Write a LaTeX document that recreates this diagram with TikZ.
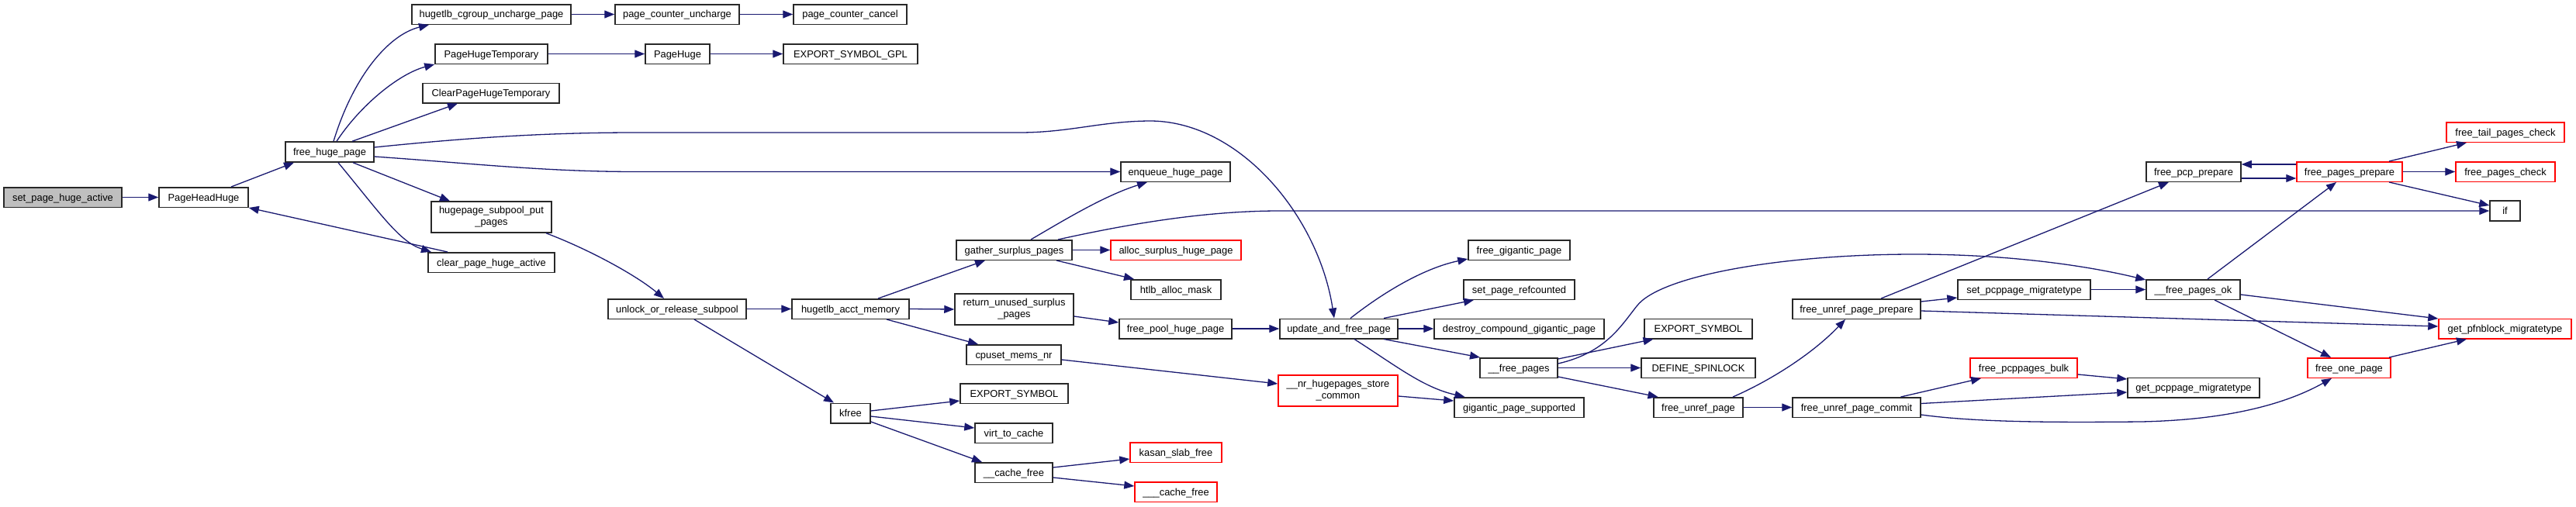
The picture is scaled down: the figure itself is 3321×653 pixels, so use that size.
\documentclass[tikz,border=0pt]{standalone}
\usepackage{fontspec}
\setmainfont{Liberation Sans}
\usetikzlibrary{arrows.meta}
\definecolor{edgeblue}{RGB}{25,25,112}
\definecolor{nodeborder}{RGB}{40,40,40}
\definecolor{nodered}{RGB}{255,0,0}
\definecolor{rootfill}{RGB}{191,191,191}
\tikzset{
  fn/.style={draw=nodeborder, line width=1.5pt, inner sep=0pt, minimum height=25.5pt,
    text height=12pt, text depth=3pt, font=\fontsize{12.9}{15}\selectfont},
  fn2/.style={draw=nodeborder, line width=1.5pt, inner sep=0pt, minimum height=40pt,
    align=center, font=\fontsize{12.9}{15}\selectfont},
  redn/.style={draw=nodered},
  rootn/.style={fill=rootfill},
  conn/.style={draw=edgeblue, line width=1.3pt, -{Triangle[length=13pt,width=10pt]}},
}
\begin{document}
\begin{tikzpicture}[x=1pt,y=-1pt]
\useasboundingbox (0,0) rectangle (3321,653);
% column 1-3
\node[fn, rootn, minimum width=152pt] (root) at (81,254.5) {set\_page\_huge\_active};
\node[fn, minimum width=115pt] (phh) at (262.5,254.5) {PageHeadHuge};
\node[fn, minimum width=114pt, minimum height=26pt] (fhp) at (425,196) {free\_huge\_page};
% column 4
\node[fn, minimum width=205pt] (hcup) at (633.5,18.5) {hugetlb\_cgroup\_uncharge\_page};
\node[fn, minimum width=145pt] (pht) at (633.5,69.5) {PageHugeTemporary};
\node[fn, minimum width=176pt] (cpht) at (633,120) {ClearPageHugeTemporary};
\node[fn2, minimum width=155pt] (hspp) at (633.5,280) {hugepage\_subpool\_put\\\_pages};
\node[fn, minimum width=163pt] (cpha) at (633.5,338.5) {clear\_page\_huge\_active};
% column 5
\node[fn, minimum width=160pt] (pcu) at (873,18.5) {page\_counter\_uncharge};
\node[fn, minimum width=83pt] (ph) at (873.5,69.5) {PageHuge};
\node[fn, minimum width=178pt] (uors) at (873,398.5) {unlock\_or\_release\_subpool};
% column 6
\node[fn, minimum width=146pt] (pcc) at (1096,18.5) {page\_counter\_cancel};
\node[fn, minimum width=173pt] (esg) at (1096.5,69.5) {EXPORT\_SYMBOL\_GPL};
\node[fn, minimum width=151pt] (ham) at (1096.5,398.5) {hugetlb\_acct\_memory};
\node[fn, minimum width=51pt] (kfree) at (1096.5,533) {kfree};
% column 7
\node[fn, minimum width=149pt] (gsp) at (1307.5,322.5) {gather\_surplus\_pages};
\node[fn2, minimum width=153pt] (rusp) at (1307.5,399) {return\_unused\_surplus\\\_pages};
\node[fn, minimum width=122pt] (cmn) at (1307,457.5) {cpuset\_mems\_nr};
\node[fn, minimum width=139pt] (es1) at (1307.5,507.5) {EXPORT\_SYMBOL};
\node[fn, minimum width=100pt] (vtc) at (1307,558.5) {virt\_to\_cache};
\node[fn, minimum width=100pt] (ucf) at (1307,609.5) {\_\_cache\_free};
% column 8
\node[fn, minimum width=141pt] (ehp) at (1515.5,221.5) {enqueue\_huge\_page};
\node[fn, redn, minimum width=168pt] (ashp) at (1516,322.5) {alloc\_surplus\_huge\_page};
\node[fn, minimum width=116pt] (htlb) at (1516,373.5) {htlb\_alloc\_mask};
\node[fn, minimum width=145pt] (fphp) at (1515.5,424) {free\_pool\_huge\_page};
\node[fn, redn, minimum width=118pt] (ksf) at (1516,583.5) {kasan\_slab\_free};
\node[fn, redn, minimum width=106pt] (uuucf) at (1516,634.5) {\_\_\_cache\_free};
% column 9
\node[fn, minimum width=152pt] (uafp) at (1726,424) {update\_and\_free\_page};
\node[fn2, redn, minimum width=154pt] (nrhs) at (1725,504) {\_\_nr\_hugepages\_store\\\_common};
% column 10
\node[fn, minimum width=131pt] (fgp) at (1958.5,322.5) {free\_gigantic\_page};
\node[fn, minimum width=143pt] (sprc) at (1958.5,373.5) {set\_page\_refcounted};
\node[fn, minimum width=219pt] (dcgp) at (1958.5,424) {destroy\_compound\_gigantic\_page};
\node[fn, minimum width=100pt] (ufp) at (1958,474.5) {\_\_free\_pages};
\node[fn, minimum width=167pt] (gps) at (1958.5,525.5) {gigantic\_page\_supported};
% column 11
\node[fn, minimum width=139pt] (es2) at (2189.5,424) {EXPORT\_SYMBOL};
\node[fn, minimum width=147pt] (dsl) at (2189.5,474.5) {DEFINE\_SPINLOCK};
\node[fn, minimum width=115pt] (fup) at (2189.5,525.5) {free\_unref\_page};
% column 12
\node[fn, minimum width=165pt] (fupp) at (2393.5,398.5) {free\_unref\_page\_prepare};
\node[fn, minimum width=165pt] (fupc) at (2393.5,525.5) {free\_unref\_page\_commit};
% column 13
\node[fn, minimum width=171pt] (spm) at (2609.5,373.5) {set\_pcppage\_migratetype};
\node[fn, redn, minimum width=138pt] (fpb) at (2609,474.5) {free\_pcppages\_bulk};
% column 14
\node[fn, minimum width=122pt] (fpcp) at (2828,221.5) {free\_pcp\_prepare};
\node[fn, minimum width=121pt] (ufpo) at (2827.5,373.5) {\_\_free\_pages\_ok};
\node[fn, minimum width=170pt] (gpm) at (2828,500) {get\_pcppage\_migratetype};
% column 15
\node[fn, redn, minimum width=136pt] (fpp) at (3029,221.5) {free\_pages\_prepare};
\node[fn, redn, minimum width=107pt] (fop) at (3028.5,474.5) {free\_one\_page};
% column 16
\node[fn, redn, minimum width=152pt] (ftpc) at (3230,170.5) {free\_tail\_pages\_check};
\node[fn, redn, minimum width=128pt] (fpc) at (3230,221.5) {free\_pages\_check};
\node[fn, minimum width=39pt, minimum height=26pt] (iff) at (3229.5,272) {if};
\node[fn, redn, minimum width=171pt] (gpfm) at (3229.5,424) {get\_pfnblock\_migratetype};

% edges
\draw[conn] (root.east) -- (phh.west);
\draw[conn] ([xshift=35.5pt]phh.north) -- ([xshift=-46pt]fhp.south);
\draw[conn] ([xshift=5pt]fhp.north) .. controls (455,100) and (500,45) .. ([xshift=-80.5pt]hcup.south);
\draw[conn] ([xshift=9pt]fhp.north) .. controls (465,135) and (515,95) .. (pht.south west);
\draw[conn] ([xshift=29pt]fhp.north) -- ([xshift=-43pt]cpht.south);
\draw[conn] ([yshift=6pt]fhp.east) .. controls (600,178) and (700,171) .. (820,171) -- (1314,171)
  .. controls (1380,171) and (1420,156) .. (1485,156)
  .. controls (1600,158) and (1700,280) .. ([xshift=-6pt]uafp.north);
\draw[conn] ([yshift=-6pt]fhp.east) .. controls (600,210) and (700,221.5) .. (820,221.5) -- (ehp.west);
\draw[conn] ([xshift=30pt]fhp.south) -- ([xshift=-53.5pt]hspp.north);
\draw[conn] ([xshift=11pt]fhp.south) .. controls (490,275) and (515,312) .. ([xshift=-77.5pt]cpha.north);
\draw[conn] ([xshift=-56.5pt]cpha.north) -- (phh.south east);
\draw[conn] (hcup.east) -- (pcu.west);
\draw[conn] (pcu.east) -- (pcc.west);
\draw[conn] (pht.east) -- (ph.west);
\draw[conn] (ph.east) -- (esg.west);
\draw[conn] ([xshift=70.5pt]hspp.south) .. controls (760,322) and (820,355) .. ([xshift=-17pt]uors.north);
\draw[conn] (uors.east) -- (ham.west);
\draw[conn] ([xshift=22pt]uors.south) -- ([xshift=-21.5pt]kfree.north);
\draw[conn] ([xshift=35.5pt]ham.north) -- ([xshift=-37.5pt]gsp.south);
\draw[conn] (ham.east) -- (rusp.west);
\draw[conn] ([xshift=46.5pt]ham.south) -- ([xshift=-46pt]cmn.north);
\draw[conn] ([xshift=21.5pt]gsp.north) .. controls (1375,282) and (1425,252) .. ([xshift=-36.5pt]ehp.south);
\draw[conn] (gsp.east) -- (ashp.west);
\draw[conn] ([xshift=54.5pt]gsp.south) -- ([xshift=-54pt]htlb.north);
\draw[conn] ([xshift=56.5pt]gsp.north) .. controls (1450,290) and (1550,272) .. (1650,272) -- (iff.west);
\draw[conn] ([yshift=-9pt]rusp.east) -- ([yshift=8pt]fphp.west);
\draw[conn] (fphp.east) -- (uafp.west);
\draw[conn] ([yshift=-6.5pt]cmn.east) -- ([yshift=9pt]nrhs.west);
\draw[conn] ([yshift=3pt]kfree.east) -- ([yshift=-9.5pt]es1.west);
\draw[conn] ([yshift=-4pt]kfree.east) -- ([yshift=6.5pt]vtc.west);
\draw[conn] ([yshift=-11pt]kfree.east) -- ([xshift=-41pt]ucf.north);
\draw[conn] ([yshift=6.5pt]ucf.east) -- ([yshift=-8.5pt]ksf.west);
\draw[conn] ([yshift=-6.5pt]ucf.east) -- ([yshift=7.5pt]uuucf.west);
\draw[conn] ([xshift=15pt]uafp.north) .. controls (1790,372) and (1840,345) .. ([yshift=-11.5pt]fgp.west);
\draw[conn] ([xshift=58pt]uafp.north) -- ([xshift=-58.5pt]sprc.south);
\draw[conn] (uafp.east) -- (dcgp.west);
\draw[conn] ([xshift=58pt]uafp.south) -- ([xshift=-50pt]ufp.north);
\draw[conn] ([xshift=20pt]uafp.south) .. controls (1800,472) and (1835,500) .. ([xshift=-70pt]gps.north);
\draw[conn] ([yshift=-7pt]nrhs.east) -- ([yshift=8.5pt]gps.west);
\draw[conn] ([yshift=11.5pt]ufp.east) -- ([xshift=-58pt]es2.south);
\draw[conn] (ufp.east) -- (dsl.west);
\draw[conn] ([yshift=-11.5pt]ufp.east) -- ([xshift=-52pt]fup.north);
\draw[conn] ([yshift=5.5pt]ufp.east) .. controls (2070,455) and (2090,420) .. (2110,395)
  .. controls (2140,355) and (2300,328) .. (2468,328)
  .. controls (2600,328) and (2700,345) .. ([yshift=12.5pt]ufpo.west);
\draw[conn] ([xshift=44.5pt]fup.north) .. controls (2280,492) and (2335,458) .. ([xshift=-14.5pt]fupp.south);
\draw[conn] (fup.east) -- (fupc.west);
\draw[conn] ([xshift=31.5pt]fupp.north) -- ([xshift=-32pt]fpcp.south);
\draw[conn] ([yshift=9.5pt]fupp.east) -- ([yshift=-10.5pt]spm.west);
\draw[conn] ([yshift=-2.5pt]fupp.east) -- ([yshift=3pt]gpfm.west);
\draw[conn] (spm.east) -- (ufpo.west);
\draw[conn] ([xshift=57pt]fupc.north) -- ([xshift=-55pt]fpb.south);
\draw[conn] ([yshift=5pt]fupc.east) -- ([yshift=-6pt]gpm.west);
\draw[conn] ([yshift=-9.5pt]fupc.east) .. controls (2550,545) and (2650,545) .. (2760,544)
  .. controls (2860,542) and (2940,525) .. ([xshift=-22.5pt]fop.south);
\draw[conn] ([yshift=-8.5pt]fpb.east) -- ([yshift=11pt]gpm.west);
\draw[conn] ([yshift=-8.5pt]fpcp.east) -- ([yshift=-8.5pt]fpp.west);
\draw[conn] ([yshift=9.5pt]fpp.west) -- ([yshift=9.5pt]fpcp.east);
\draw[conn] ([xshift=51pt]fpp.north) -- ([xshift=-50pt]ftpc.south);
\draw[conn] (fpp.east) -- (fpc.west);
\draw[conn] ([xshift=51pt]fpp.south) -- ([yshift=7pt]iff.west);
\draw[conn] ([xshift=18.5pt]ufpo.north) -- ([xshift=-17pt]fpp.south);
\draw[conn] ([yshift=-6.5pt]ufpo.east) -- ([yshift=13pt]gpfm.west);
\draw[conn] ([xshift=27.5pt]ufpo.south) -- ([xshift=-23.5pt]fop.north);
\draw[conn] ([xshift=51.5pt]fop.north) -- ([xshift=-49.5pt]gpfm.south);
\end{tikzpicture}
\end{document}
